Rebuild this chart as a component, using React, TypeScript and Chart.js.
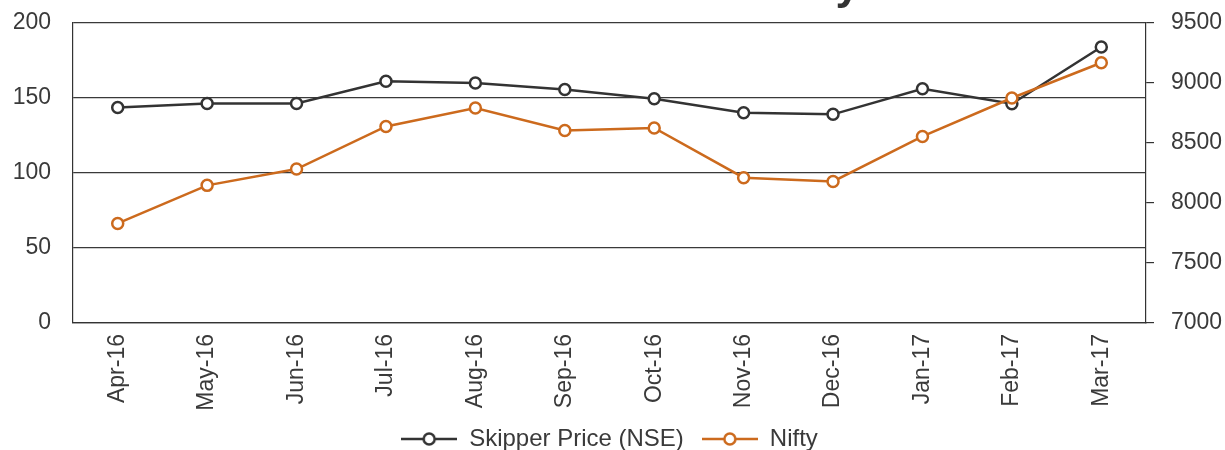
import React, { useEffect, useRef } from "react";
import { Chart, registerables } from "chart.js";

Chart.register(...registerables);

const categories = [
  "Apr-16", "May-16", "Jun-16", "Jul-16", "Aug-16", "Sep-16",
  "Oct-16", "Nov-16", "Dec-16", "Jan-17", "Feb-17", "Mar-17",
];
const skipperPrice = [143.7, 146.4, 146.4, 161.1, 160, 155.7, 149.5, 140.2, 139.1, 156.2, 146.2, 184];
const nifty = [7830, 8147, 8283, 8638, 8792, 8605, 8625, 8211, 8180, 8555, 8875, 9169];
const leftTicks = [0, 50, 100, 150, 200];
const rightTicks = [7000, 7500, 8000, 8500, 9000, 9500];
const seriesNames = ["Skipper Price (NSE)", "Nifty"];
const titleText = "Share Price Performance vs Nifty";

const DARK = "#333333";
const ORANGE = "#cc6a1d";
const TEXT = "#3a3a3a";
const FONT = "'Liberation Sans', Arial, sans-serif";

function makeIcon(color: string): HTMLCanvasElement {
  const c = document.createElement("canvas");
  c.width = 56;
  c.height = 16;
  const ctx = c.getContext("2d")!;
  ctx.strokeStyle = color;
  ctx.lineWidth = 2.5;
  ctx.beginPath();
  ctx.moveTo(0, 8);
  ctx.lineTo(56, 8);
  ctx.stroke();
  ctx.beginPath();
  ctx.arc(28, 8, 5.5, 0, Math.PI * 2);
  ctx.fillStyle = "#ffffff";
  ctx.fill();
  ctx.stroke();
  return c;
}

function noPad(scale: any) {
  scale.paddingLeft = 0;
  scale.paddingRight = 0;
  scale.paddingTop = 0;
  scale.paddingBottom = 0;
}

export default function App() {
  const ref = useRef<HTMLCanvasElement | null>(null);

  useEffect(() => {
    if (!ref.current) return;
    const icons = [makeIcon(DARK), makeIcon(ORANGE)];
    const titlePlugin = {
      id: "cutTitle",
      afterDraw(chart: any) {
        const ctx = chart.ctx;
        ctx.save();
        ctx.font = `bold 44px ${FONT}`;
        ctx.fillStyle = DARK;
        ctx.textAlign = "right";
        ctx.textBaseline = "alphabetic";
        ctx.fillText(titleText, 860, -1.5);
        ctx.restore();
      },
    };
    const chart = new Chart(ref.current, {
      type: "line",
      data: {
        labels: categories,
        datasets: [
          {
            label: seriesNames[0],
            data: skipperPrice,
            yAxisID: "y",
            order: 1,
            borderColor: DARK,
            backgroundColor: "#ffffff",
            borderWidth: 2.5,
            pointRadius: 5.5,
            pointBorderWidth: 2.5,
            pointBackgroundColor: "#ffffff",
            pointBorderColor: DARK,
            tension: 0,
          },
          {
            label: seriesNames[1],
            data: nifty,
            yAxisID: "y1",
            order: 0,
            borderColor: ORANGE,
            backgroundColor: "#ffffff",
            borderWidth: 2.5,
            pointRadius: 5.5,
            pointBorderWidth: 2.5,
            pointBackgroundColor: "#ffffff",
            pointBorderColor: ORANGE,
            tension: 0,
          },
        ],
      },
      options: {
        animation: false,
        responsive: true,
        maintainAspectRatio: false,
        layout: { padding: { left: 14, right: 3, top: 23, bottom: 0 } },
        plugins: {
          title: { display: false },
          tooltip: { enabled: false },
          legend: {
            display: true,
            position: "bottom",
            fullSize: false,
            labels: {
              usePointStyle: true,
              pointStyleWidth: 56,
              padding: 18,
              color: TEXT,
              font: { family: FONT, size: 24 },
              generateLabels: (ch: any) =>
                ch.data.datasets.map((ds: any, i: number) => ({
                  text: ds.label,
                  pointStyle: icons[i],
                  fillStyle: "#ffffff",
                  strokeStyle: ds.borderColor,
                  lineWidth: 0,
                  hidden: false,
                  datasetIndex: i,
                  fontColor: TEXT,
                })),
            },
          },
        },
        scales: {
          x: {
            offset: true,
            grid: { display: false },
            border: { display: true, color: DARK, width: 1.2 },
            afterFit: (s: any) => {
              s.height = 86;
              noPad(s);
            },
            ticks: {
              autoSkip: false,
              minRotation: 90,
              maxRotation: 90,
              padding: 3,
              color: TEXT,
              font: { family: FONT, size: 23 },
            },
          },
          y: {
            position: "left",
            min: leftTicks[0],
            max: leftTicks[leftTicks.length - 1],
            afterBuildTicks: (axis: any) => {
              axis.ticks = leftTicks.map((v) => ({ value: v }));
            },
            afterFit: (s: any) => {
              s.width = 59;
              noPad(s);
            },
            grid: { color: "#3a3a3a", lineWidth: 1.2, drawTicks: false },
            border: { display: true, color: DARK, width: 1.2 },
            ticks: {
              padding: 22,
              color: TEXT,
              font: { family: FONT, size: 23 },
            },
          },
          y1: {
            position: "right",
            min: rightTicks[0],
            max: rightTicks[rightTicks.length - 1],
            afterBuildTicks: (axis: any) => {
              axis.ticks = rightTicks.map((v) => ({ value: v }));
            },
            afterFit: (s: any) => {
              s.width = 76;
              noPad(s);
            },
            grid: { drawOnChartArea: false, drawTicks: true, tickLength: 8, color: DARK, lineWidth: 1.2 },
            border: { display: true, color: DARK, width: 1.2 },
            ticks: {
              padding: 17,
              color: TEXT,
              font: { family: FONT, size: 23 },
              callback: (v: any) => String(v),
            },
          },
        },
      },
      plugins: [titlePlugin],
    });
    return () => chart.destroy();
  }, []);

  return (
    <div style={{ position: "absolute", left: 0, top: 0, width: 1225, height: 450, overflow: "hidden", background: "#ffffff" }}>
      <div style={{ position: "relative", width: 1225, height: 461 }}>
        <canvas ref={ref} />
      </div>
    </div>
  );
}
